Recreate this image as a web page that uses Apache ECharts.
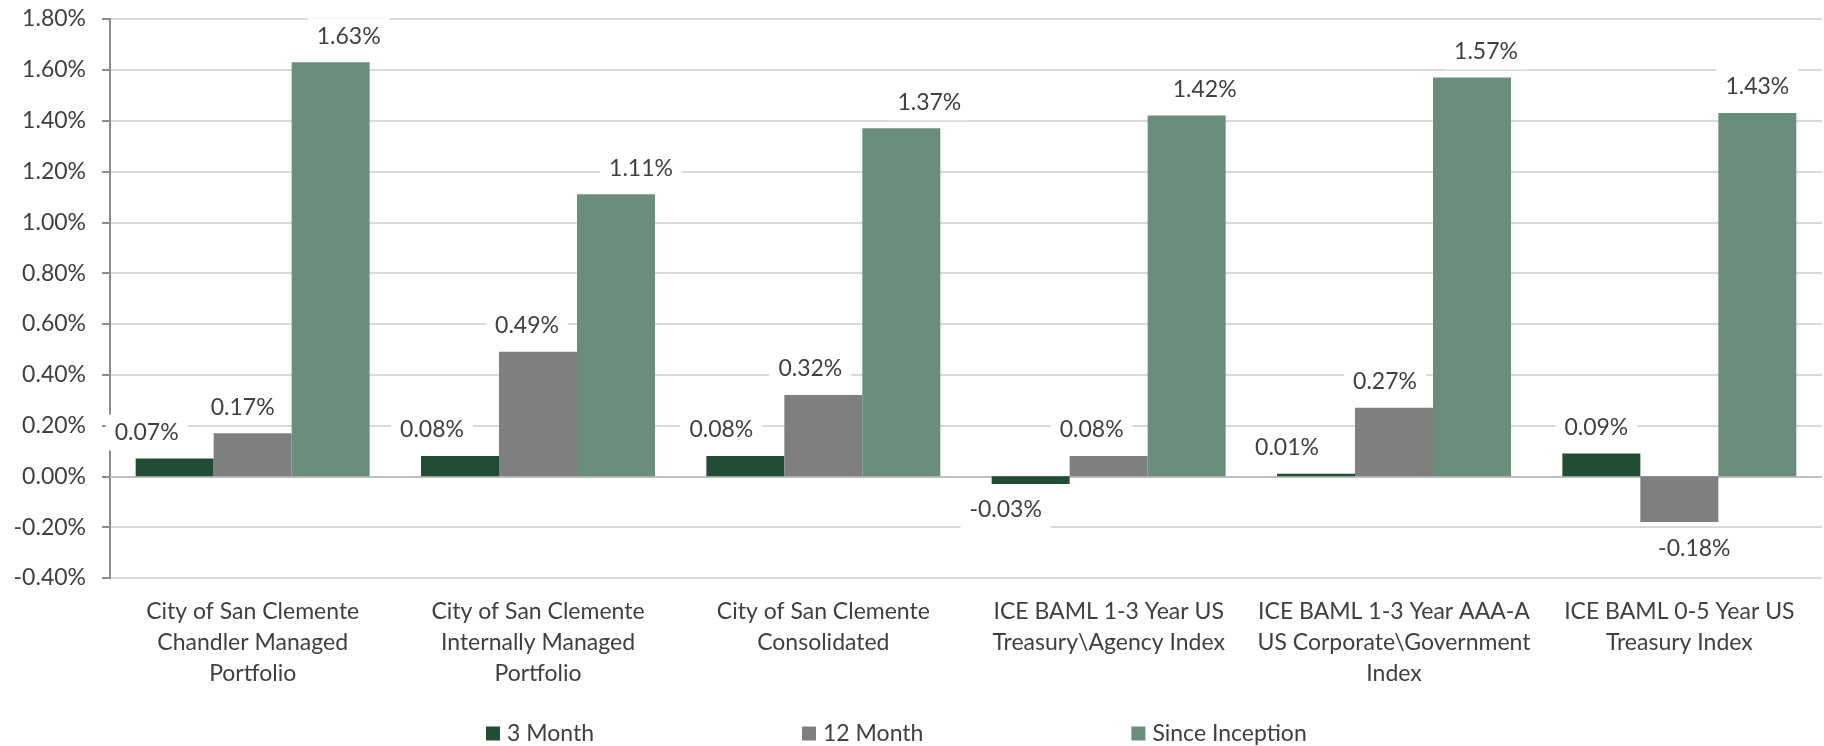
<!DOCTYPE html>
<html>
<head>
<meta charset="utf-8">
<script src="https://cdn.jsdelivr.net/npm/echarts@6/dist/echarts.min.js"></script>
<style>
html,body{margin:0;padding:0;background:#fff;}
#chart{width:1824px;height:746px;}
</style>
</head>
<body>
<div id="chart"></div>
<script>
// ---- data ----
const categories = [
  "City of San Clemente\nChandler Managed\nPortfolio",
  "City of San Clemente\nInternally Managed\nPortfolio",
  "City of San Clemente\nConsolidated",
  "ICE BAML 1-3 Year US\nTreasury\\Agency Index",
  "ICE BAML 1-3 Year AAA-A\nUS Corporate\\Government\nIndex",
  "ICE BAML 0-5 Year US\nTreasury Index"
];
const seriesNames = ["3 Month", "12 Month", "Since Inception"];
const threeMonth = [0.07, 0.08, 0.08, -0.03, 0.01, 0.09];
const twelveMonth = [0.17, 0.49, 0.32, 0.08, 0.27, -0.18];
const sinceInception = [1.63, 1.11, 1.37, 1.42, 1.57, 1.43];
const yTicks = { min: -0.4, max: 1.8, step: 0.2 };

// ---- styling ----
const colors = ["#234c37", "#7f7f7f", "#6a8e7b"];
// horizontal nudges of the value labels, as placed in the original
const labelNudge = [
  [-28, -28, -24, -25, -29, -5],
  [-10, -11, -13, -17, -9, 15],
  [18, 25, 28, 18, 14, 0]
];
const FONT = "Lato";
const TEXT = "#404040";
const FS = 23;

function makeSeries(idx, values) {
  return {
    name: seriesNames[idx],
    type: "bar",
    barGap: "0%",
    barCategoryGap: "18%",
    itemStyle: { color: colors[idx] },
    data: values.map((v, i) => ({
      value: v,
      label: { position: v < 0 ? "bottom" : "top", offset: [labelNudge[idx][i], 0] }
    })),
    label: {
      show: true,
      distance: 8,
      formatter: p => p.value.toFixed(2) + "%",
      fontFamily: FONT,
      fontSize: FS,
      color: TEXT,
      backgroundColor: "#ffffff",
      padding: [6, 9],
      lineHeight: 24
    },
    z: 3
  };
}

const series = [
  makeSeries(0, threeMonth),
  makeSeries(1, twelveMonth),
  makeSeries(2, sinceInception)
];
series[0].markLine = {
  silent: true,
  symbol: "none",
  label: { show: false },
  lineStyle: { color: "#bfbfbf", width: 2, type: "solid" },
  data: [{ yAxis: 0 }],
  z: 1
};

const chart = echarts.init(document.getElementById("chart"), null, { renderer: "canvas" });
chart.setOption({
  animation: false,
  color: colors,
  grid: { left: 110, right: 2, top: 19, bottom: 168, containLabel: false },
  legend: {
    data: seriesNames,
    left: 486,
    top: 722,
    padding: 0,
    itemWidth: 14,
    itemHeight: 14,
    itemGap: 208,
    icon: "rect",
    textStyle: { fontFamily: FONT, fontSize: FS, color: TEXT, padding: [0, 0, 0, 2] }
  },
  xAxis: {
    type: "category",
    data: categories,
    axisLine: { show: false },
    axisTick: { show: false },
    axisLabel: {
      interval: 0,
      margin: 18,
      fontFamily: FONT,
      fontSize: FS,
      lineHeight: 31,
      color: TEXT,
      align: "center"
    }
  },
  yAxis: {
    type: "value",
    min: yTicks.min,
    max: yTicks.max,
    interval: yTicks.step,
    axisLine: { show: true, lineStyle: { color: "#8c8c8c", width: 2 } },
    axisTick: { show: true, inside: false, length: 8, lineStyle: { color: "#8c8c8c", width: 2 } },
    splitLine: { show: true, lineStyle: { color: "#d9d9d9", width: 2 } },
    axisLabel: {
      margin: 24,
      fontFamily: FONT,
      fontSize: FS,
      color: TEXT,
      formatter: v => v.toFixed(2) + "%"
    }
  },
  series: series
});
</script>
</body>
</html>
